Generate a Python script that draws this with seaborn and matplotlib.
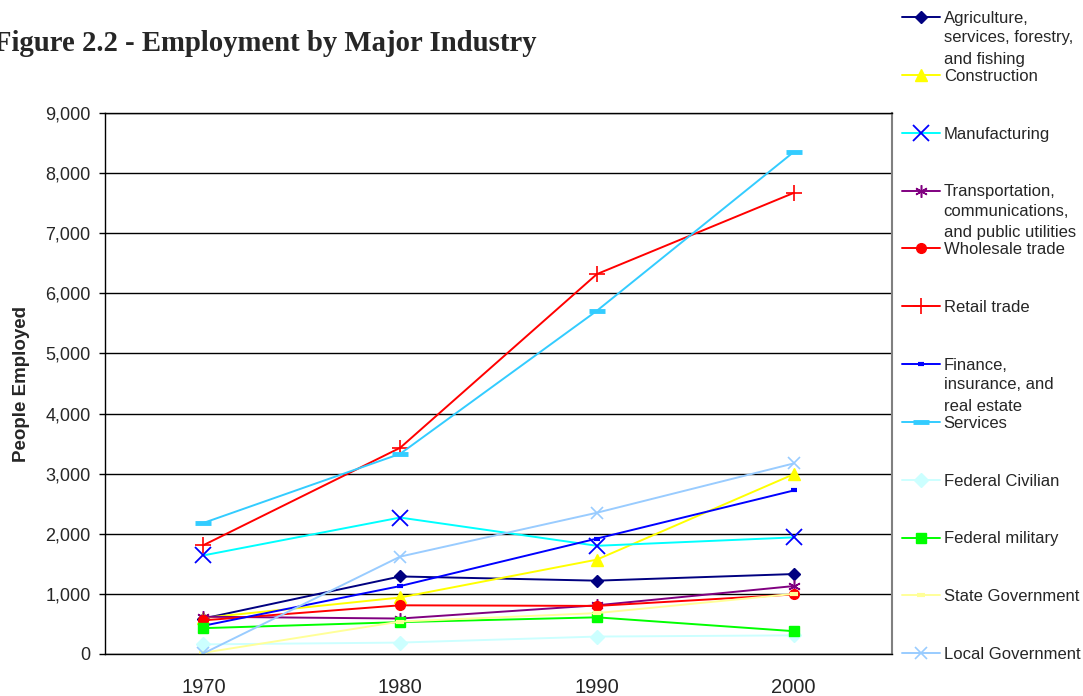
import matplotlib
matplotlib.use("Agg")
import matplotlib.pyplot as plt
import matplotlib.ticker as mticker
import seaborn as sns

# values (people employed)
years = [1970, 1980, 1990, 2000]
agriculture = [590, 1290, 1220, 1330]
construction = [600, 940, 1570, 2990]
manufacturing = [1640, 2270, 1800, 1940]
transportation = [620, 590, 810, 1130]
wholesale = [560, 810, 800, 990]
retail = [1810, 3430, 6320, 7670]
finance = [470, 1130, 1920, 2720]
services = [2180, 3330, 5710, 8350]
federal_civilian = [160, 190, 290, 310]
federal_military = [430, 530, 610, 380]
state_government = [20, 540, 680, 1000]
local_government = [10, 1620, 2350, 3170]

labels = [
    "Agriculture,\nservices, forestry,\nand fishing",
    "Construction",
    "Manufacturing",
    "Transportation,\ncommunications,\nand public utilities",
    "Wholesale trade",
    "Retail trade",
    "Finance,\ninsurance, and\nreal estate",
    "Services",
    "Federal Civilian",
    "Federal military",
    "State Government",
    "Local Government",
]
series = [agriculture, construction, manufacturing, transportation, wholesale,
          retail, finance, services, federal_civilian, federal_military,
          state_government, local_government]

# line colour, marker, marker colour, marker size, marker edge width
styles = [
    ("#000080", "D", "#000080", 6, 1),
    ("#FFFF00", "^", "#FFFF00", 8, 1),
    ("#00FFFF", "x", "#0000FF", 11, 1.3),
    ("#800080", (6, 2, 0), "#800080", 9, 1.1),
    ("#FF0000", "o", "#FF0000", 7, 1),
    ("#FF0000", "+", "#FF0000", 12, 1.2),
    ("#0000FF", "_", "#0000FF", 5, 3),
    ("#33CCFF", "_", "#33CCFF", 12, 3.5),
    ("#CCFFFF", "D", "#CCFFFF", 7, 1),
    ("#00FF00", "s", "#00FF00", 7, 1),
    ("#FFFF99", "_", "#FFFF99", 6, 3),
    ("#99CCFF", "x", "#99CCFF", 9, 1.2),
]

sns.set_style("white")
plt.rcParams["font.family"] = ["Liberation Sans", "DejaVu Sans"]

fig = plt.figure(figsize=(10.83, 6.96), dpi=100)
ax = fig.add_axes([105 / 1083, 42 / 696, 787 / 1083, 541 / 696])

for label, values, (lc, mk, mc, ms, mew) in zip(labels, series, styles):
    sns.lineplot(x=years, y=values, ax=ax, color=lc, linewidth=1.4,
                 marker=mk, markersize=ms, markerfacecolor=mc,
                 markeredgecolor=mc, markeredgewidth=mew,
                 label=label.split("\n")[0])

ax.set_xlim(1965, 2005)
ax.set_ylim(0, 9000)
ax.set_xticks(years)
ax.set_yticks(range(0, 9001, 1000))
ax.yaxis.set_major_formatter(mticker.FuncFormatter(lambda v, p: f"{int(v):,}"))
ax.tick_params(axis="y", left=True, direction="out", length=4.5, width=1,
               color="black", labelsize=13, pad=6)
ax.tick_params(axis="x", bottom=False, labelsize=14.5, pad=14)
ax.yaxis.grid(True, color="black", linewidth=1)
ax.xaxis.grid(False)
ax.set_axisbelow(True)
for side in ["left", "bottom", "top"]:
    ax.spines[side].set_color("black")
    ax.spines[side].set_linewidth(1)
ax.spines["right"].set_color("#808080")
ax.spines["right"].set_linewidth(1.5)

ax.set_xlabel("")
ax.set_ylabel("People Employed", fontsize=13.5, fontweight="bold")
ax.yaxis.set_label_coords(-0.095, 0.5)

fig.text(-0.0055, 0.937, "Figure 2.2 - Employment by Major Industry",
         fontsize=20.7, fontweight="bold", family="Liberation Serif",
         va="center", ha="left")

handles, first_lines = ax.get_legend_handles_labels()
leg = ax.legend(handles, first_lines, loc="center left",
                bbox_to_anchor=(902 / 1083, 1 - 336.5 / 696),
                bbox_transform=fig.transFigure, frameon=False, fontsize=12,
                borderpad=0, borderaxespad=0, labelspacing=2.57,
                handlelength=2.3, handletextpad=0.2, numpoints=1)

# extra lines of the wrapped labels sit under the first line
for txt, label in zip(leg.get_texts(), labels):
    rest = label.split("\n")[1:]
    if rest:
        ax.annotate("\n".join(rest), xy=(0, 0), xycoords=txt,
                    xytext=(0, -3), textcoords="offset points",
                    ha="left", va="top", fontsize=12, linespacing=1.55,
                    zorder=6)

fig.savefig("out.png", dpi=100)
